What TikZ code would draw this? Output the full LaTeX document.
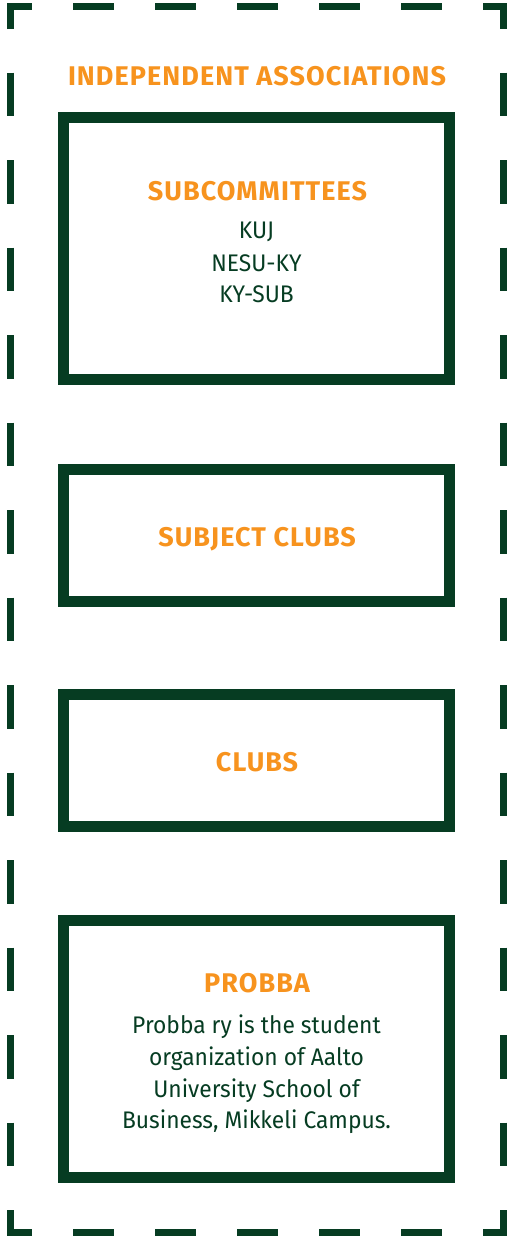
\documentclass[tikz,border=0pt]{standalone}
\usepackage{fontspec}
\setmainfont{Fira Sans}
\newfontfamily\headfont{Fira Sans}[LetterSpace=4]
\newfontfamily\bodyfont{Fira Sans}[FakeStretch=0.95]
\definecolor{dkgreen}{HTML}{063C22}
\definecolor{orng}{HTML}{F7931E}
\begin{document}
\begin{tikzpicture}[x=1pt,y=-1pt,
  frame/.style={draw=dkgreen,line width=7pt,line join=miter},
  boxstyle/.style={draw=dkgreen,line width=11pt,minimum width=386pt,inner sep=0pt,outer sep=0pt},
  headtxt/.style={text=orng,font=\headfont\bfseries\fontsize{27}{32}\selectfont,anchor=base,inner sep=0pt},
  bodytxt/.style={text=dkgreen,font=\bodyfont\fontsize{24}{32}\selectfont,anchor=base,inner sep=0pt}]
\useasboundingbox (0,0) rectangle (510,1237);
% outer dashed frame: corners
\draw[frame] (10.5,29) -- (10.5,6.8) -- (32,6.8);
\draw[frame] (483,6.8) -- (503.5,6.8) -- (503.5,29);
\draw[frame] (10.5,1210) -- (10.5,1232.5) -- (32,1232.5);
\draw[frame] (483,1232.5) -- (503.5,1232.5) -- (503.5,1210);
% horizontal dashes
\foreach \i in {0,...,4}{
  \draw[frame] ({73+82*\i},6.8) -- ({114+82*\i},6.8);
  \draw[frame] ({73+82*\i},1232.5) -- ({114+82*\i},1232.5);
}
% vertical dashes
\foreach \i in {0,...,12}{
  \draw[frame] (10.5,{29+43.74*(2*\i+1)}) -- (10.5,{29+43.74*(2*\i+2)});
  \draw[frame] (503.5,{29+43.74*(2*\i+1)}) -- (503.5,{29+43.74*(2*\i+2)});
}
% title
\node[headtxt] (title) at (257,85) {INDEPENDENT ASSOCIATIONS};
% boxes
\node[boxstyle,minimum height=262pt] (b1) at (256.5,248.5) {};
\node[boxstyle,minimum height=132pt] (b2) at (256.5,535) {};
\node[boxstyle,minimum height=132pt] (b3) at (256.5,760.5) {};
\node[boxstyle,minimum height=257.5pt] (b4) at (256.5,1049.2) {};
% box 1 text
\node[headtxt] (sub) at (257.5,200) {SUBCOMMITTEES};
\node[bodytxt] (kuj) at (256.5,238) {KUJ};
\node[bodytxt] (nesu) at (256.5,271) {NESU-KY};
\node[bodytxt] (kysub) at (256.5,302) {KY-SUB};
% box 2, 3
\node[headtxt] (subj) at (257,546) {SUBJECT CLUBS};
\node[headtxt] (clubs) at (257,771) {CLUBS};
% box 4
\node[headtxt] (probba) at (257,992) {PROBBA};
\node[bodytxt] (p1) at (256.5,1033) {Probba ry is the student};
\node[bodytxt] (p2) at (256.5,1065) {organization of Aalto};
\node[bodytxt] (p3) at (256.5,1097) {University School of};
\node[bodytxt] (p4) at (256.5,1128) {Business, Mikkeli Campus.};
\end{tikzpicture}
\end{document}
